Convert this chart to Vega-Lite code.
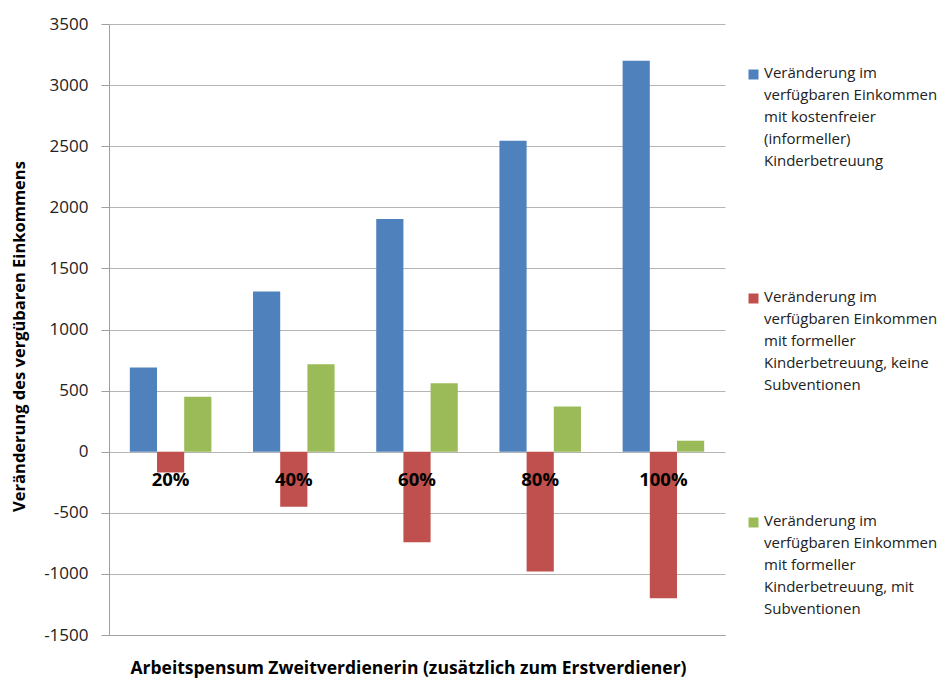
{
  "$schema": "https://vega.github.io/schema/vega-lite/v6.json",
  "width": 616,
  "height": 611,
  "autosize": {"type": "none"},
  "padding": {"left": 109, "top": 24, "right": 216, "bottom": 47},
  "background": "white",
  "config": {"view": {"stroke": null}, "font": "Open Sans"},
  "datasets": {
    "werte": [
      {"pensum": "20%", "serie": "Veränderung im|verfügbaren Einkommen|mit kostenfreier|(informeller)|Kinderbetreuung", "wert": 690},
      {"pensum": "20%", "serie": "Veränderung im|verfügbaren Einkommen|mit formeller|Kinderbetreuung, keine|Subventionen", "wert": -170},
      {"pensum": "20%", "serie": "Veränderung im|verfügbaren Einkommen|mit formeller|Kinderbetreuung, mit|Subventionen", "wert": 450},
      {"pensum": "40%", "serie": "Veränderung im|verfügbaren Einkommen|mit kostenfreier|(informeller)|Kinderbetreuung", "wert": 1310},
      {"pensum": "40%", "serie": "Veränderung im|verfügbaren Einkommen|mit formeller|Kinderbetreuung, keine|Subventionen", "wert": -450},
      {"pensum": "40%", "serie": "Veränderung im|verfügbaren Einkommen|mit formeller|Kinderbetreuung, mit|Subventionen", "wert": 715},
      {"pensum": "60%", "serie": "Veränderung im|verfügbaren Einkommen|mit kostenfreier|(informeller)|Kinderbetreuung", "wert": 1905},
      {"pensum": "60%", "serie": "Veränderung im|verfügbaren Einkommen|mit formeller|Kinderbetreuung, keine|Subventionen", "wert": -740},
      {"pensum": "60%", "serie": "Veränderung im|verfügbaren Einkommen|mit formeller|Kinderbetreuung, mit|Subventionen", "wert": 560},
      {"pensum": "80%", "serie": "Veränderung im|verfügbaren Einkommen|mit kostenfreier|(informeller)|Kinderbetreuung", "wert": 2545},
      {"pensum": "80%", "serie": "Veränderung im|verfügbaren Einkommen|mit formeller|Kinderbetreuung, keine|Subventionen", "wert": -980},
      {"pensum": "80%", "serie": "Veränderung im|verfügbaren Einkommen|mit formeller|Kinderbetreuung, mit|Subventionen", "wert": 370},
      {"pensum": "100%", "serie": "Veränderung im|verfügbaren Einkommen|mit kostenfreier|(informeller)|Kinderbetreuung", "wert": 3200},
      {"pensum": "100%", "serie": "Veränderung im|verfügbaren Einkommen|mit formeller|Kinderbetreuung, keine|Subventionen", "wert": -1200},
      {"pensum": "100%", "serie": "Veränderung im|verfügbaren Einkommen|mit formeller|Kinderbetreuung, mit|Subventionen", "wert": 90}
    ],
    "kategorien": [
      {"pensum": "20%"}, {"pensum": "40%"}, {"pensum": "60%"}, {"pensum": "80%"}, {"pensum": "100%"}
    ]
  },
  "layer": [
    {
      "data": {"name": "werte"},
      "mark": {"type": "bar"},
      "encoding": {
        "x": {
          "field": "pensum", "type": "nominal",
          "sort": ["20%", "40%", "60%", "80%", "100%"],
          "scale": {"paddingInner": 0.338, "paddingOuter": 0.169},
          "axis": {
            "labels": false, "ticks": false, "grid": false,
            "domain": true, "domainColor": "#a0a0a0",
            "title": "Arbeitspensum Zweitverdienerin (zusätzlich zum Erstverdiener)",
            "titleFontSize": 17.5, "titleFontWeight": "bold", "titleColor": "#000",
            "titleX": 299, "titleAlign": "center",
            "titleY": 33, "titleBaseline": "middle"
          }
        },
        "xOffset": {
          "field": "serie", "type": "nominal",
          "sort": [
            "Veränderung im|verfügbaren Einkommen|mit kostenfreier|(informeller)|Kinderbetreuung",
            "Veränderung im|verfügbaren Einkommen|mit formeller|Kinderbetreuung, keine|Subventionen",
            "Veränderung im|verfügbaren Einkommen|mit formeller|Kinderbetreuung, mit|Subventionen"
          ],
          "scale": {"paddingInner": 0, "paddingOuter": 0}
        },
        "y": {
          "field": "wert", "type": "quantitative",
          "scale": {"domain": [-1500, 3500], "nice": false},
          "axis": {
            "values": [-1500, -1000, -500, 0, 500, 1000, 1500, 2000, 2500, 3000, 3500],
            "labelExpr": "'' + datum.value",
            "title": "Veränderung des vergübaren Einkommens",
            "titleFontSize": 16.5, "titleFontWeight": "bold", "titleColor": "#000", "titlePadding": 16,
            "titleY": 312,
            "labelFontSize": 17, "labelColor": "#222", "labelPadding": 13,
            "tickSize": 8, "tickColor": "#a0a0a0", "domainColor": "#a0a0a0",
            "gridColor": "#b4b4b4", "gridWidth": 1
          }
        },
        "color": {
          "field": "serie", "type": "nominal",
          "sort": [
            "Veränderung im|verfügbaren Einkommen|mit kostenfreier|(informeller)|Kinderbetreuung",
            "Veränderung im|verfügbaren Einkommen|mit formeller|Kinderbetreuung, keine|Subventionen",
            "Veränderung im|verfügbaren Einkommen|mit formeller|Kinderbetreuung, mit|Subventionen"
          ],
          "scale": {"range": ["#4F81BD", "#C0504D", "#9BBB59"]},
          "legend": {
            "orient": "none", "legendX": 637, "legendY": 43, "title": null, "padding": 0,
            "symbolType": "square", "symbolSize": 100, "symbolStrokeWidth": 0,
            "labelFontSize": 15, "labelColor": "#222", "labelLimit": 300, "labelOffset": 3,
            "labelBaseline": "top", "rowPadding": 120,
            "labelExpr": "split(datum.label, '|')",
            "encode": {"labels": {"update": {"dy": {"value": -9}, "lineHeight": {"value": 22}}}}
          }
        }
      }
    },
    {
      "data": {"name": "kategorien"},
      "mark": {"type": "text", "fontWeight": "bold", "fontSize": 18.5, "dy": 28, "color": "#000", "baseline": "middle"},
      "encoding": {
        "x": {"field": "pensum", "type": "nominal", "sort": ["20%", "40%", "60%", "80%", "100%"]},
        "y": {"datum": 0},
        "text": {"field": "pensum"}
      }
    }
  ]
}
